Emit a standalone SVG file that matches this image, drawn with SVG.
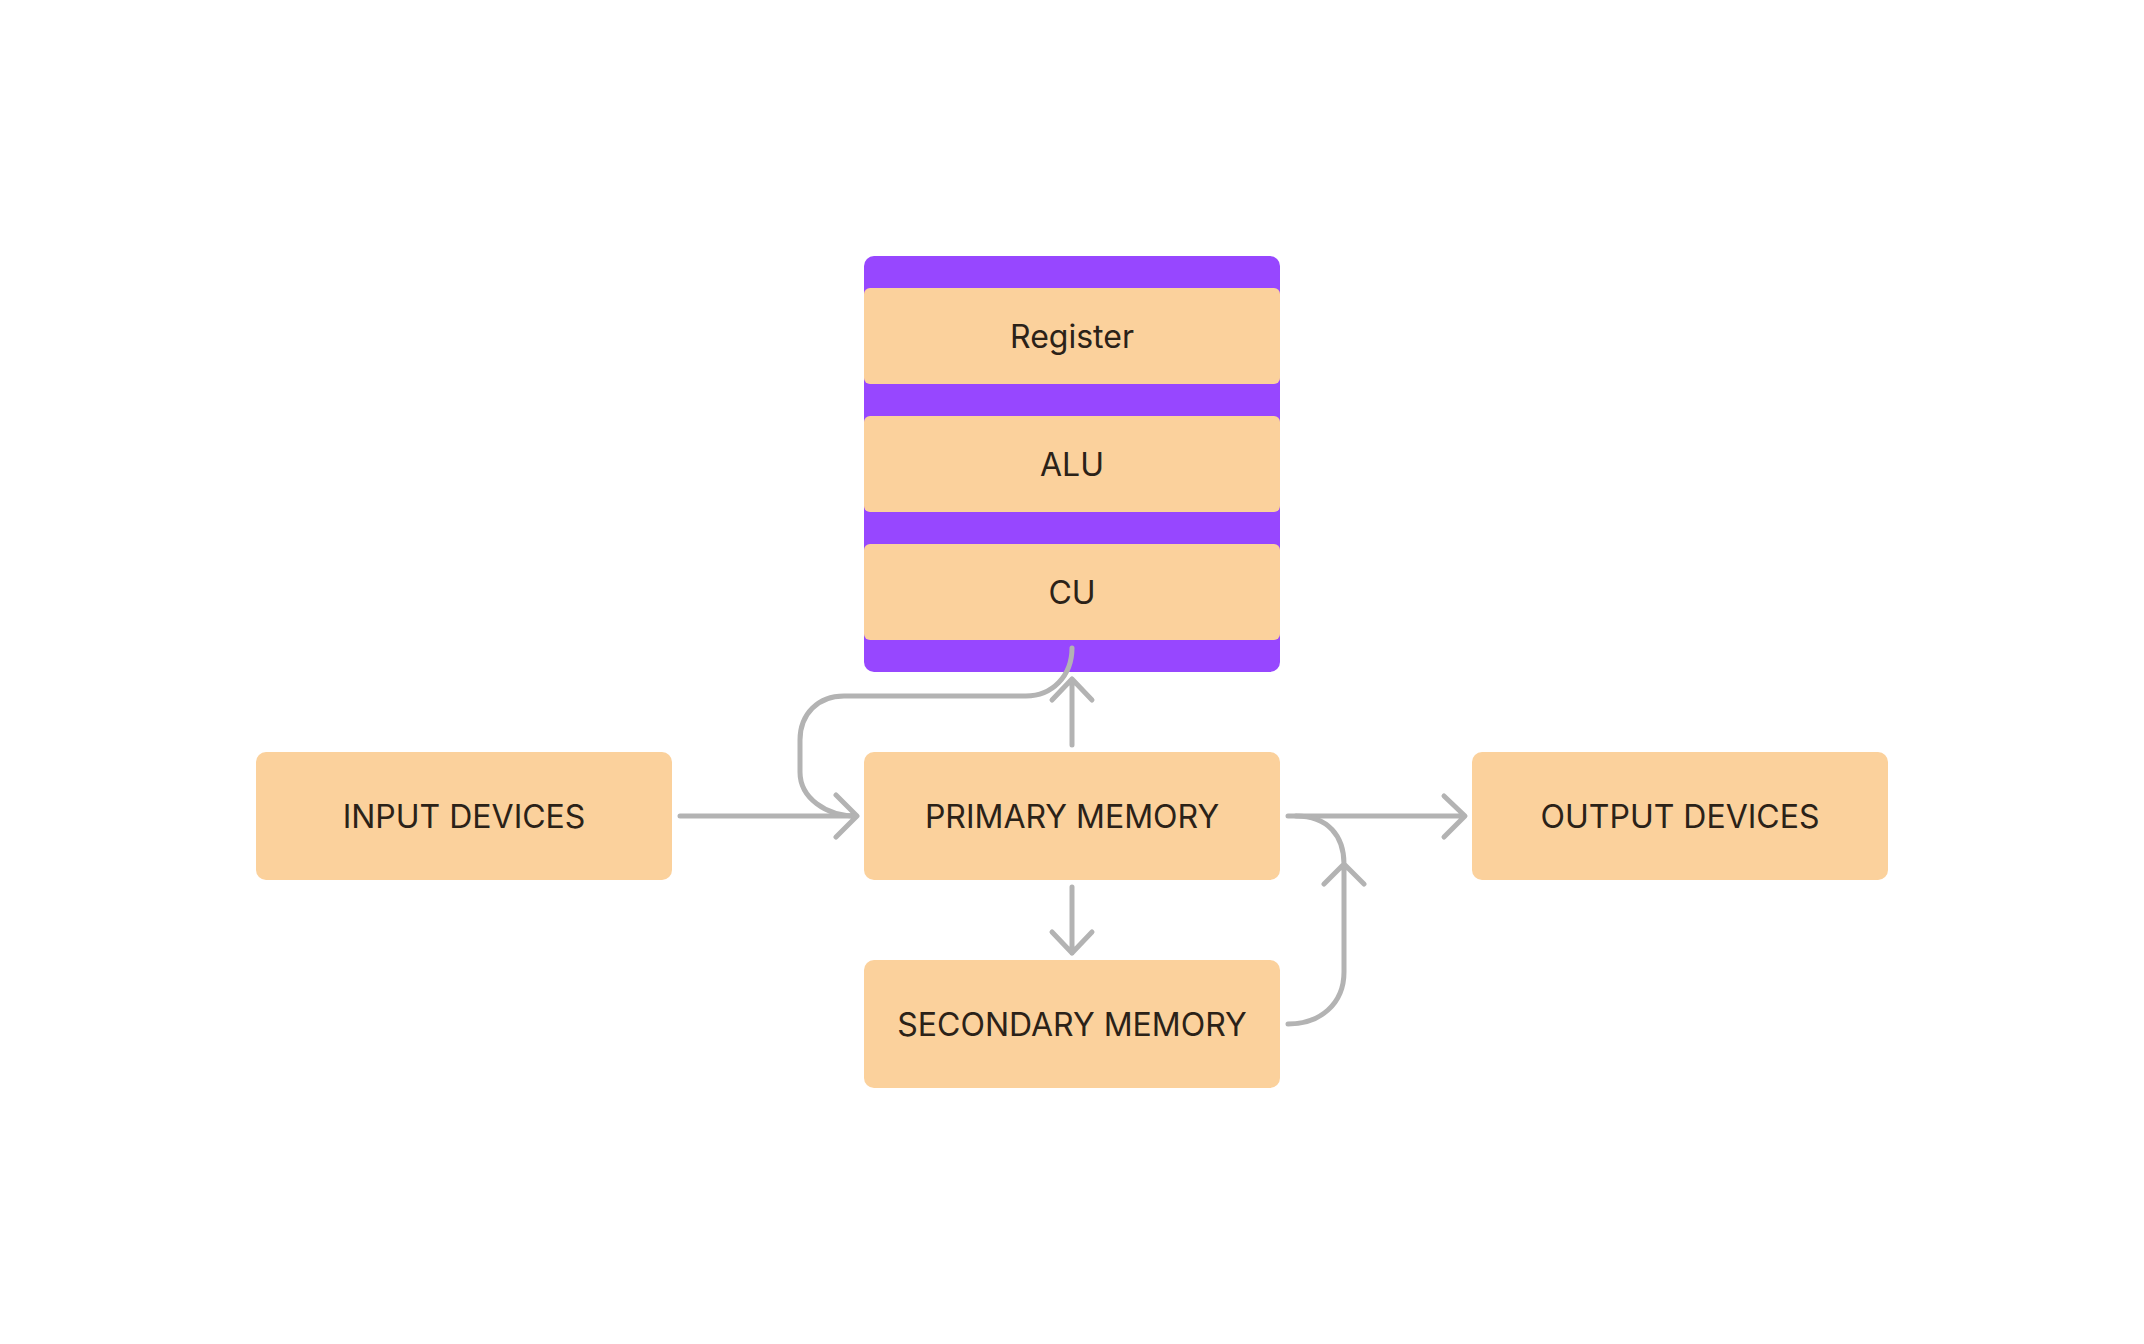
<svg xmlns="http://www.w3.org/2000/svg" width="2144" height="1344" viewBox="0 0 2144 1344">
<style>
.box{fill:#FBD19C;}
.lbl{font-family:Inter,"Liberation Sans",sans-serif;font-size:32px;fill:#2B2218;text-anchor:middle;}
.con{fill:none;stroke:#B3B3B3;stroke-width:5;stroke-linecap:round;stroke-linejoin:round;}
</style>
<rect width="2144" height="1344" fill="#FFFFFF"/>
<g id="cpu">
<rect x="864" y="256" width="416" height="416" rx="10" fill="#9747FF"/>
</g>
<g id="register">
<rect class="box" x="864" y="288" width="416" height="96" rx="6"/>
<text class="lbl" x="1072" y="348">Register</text>
</g>
<g id="alu">
<rect class="box" x="864" y="416" width="416" height="96" rx="6"/>
<text class="lbl" x="1072" y="476">ALU</text>
</g>
<g id="cu">
<rect class="box" x="864" y="544" width="416" height="96" rx="6"/>
<text class="lbl" x="1072" y="604">CU</text>
</g>
<g id="input-devices">
<rect class="box" x="256" y="752" width="416" height="128" rx="10"/>
<text class="lbl" x="464" y="828">INPUT DEVICES</text>
</g>
<g id="primary-memory">
<rect class="box" x="864" y="752" width="416" height="128" rx="10"/>
<text class="lbl" x="1072" y="828">PRIMARY MEMORY</text>
</g>
<g id="output-devices">
<rect class="box" x="1472" y="752" width="416" height="128" rx="10"/>
<text class="lbl" x="1680" y="828">OUTPUT DEVICES</text>
</g>
<g id="secondary-memory">
<rect class="box" x="864" y="960" width="416" height="128" rx="10"/>
<text class="lbl" x="1072" y="1036">SECONDARY MEMORY</text>
</g>
<g id="connectors">
<path class="con" d="M680 816 H856 M836 795 L857 816 L836 837"/>
<path class="con" d="M1072 648 C1072 676 1052 696 1026 696 H844 C818 696 800 714 800 740 V772 C800 798 826 816 856 816"/>
<path class="con" d="M1072 745 V679 M1052 700 L1072 679 L1092 700"/>
<path class="con" d="M1072 887 V953 M1052 932 L1072 953 L1092 932"/>
<path class="con" d="M1288 816 H1464 M1444 796 L1465 816 L1444 837"/>
<path class="con" d="M1288 1024 C1320 1024 1344 1004 1344 972 V864 M1324 884 L1344 864 L1364 884 M1344 864 C1344 836 1328 816 1296 816"/>
</g>
</svg>
